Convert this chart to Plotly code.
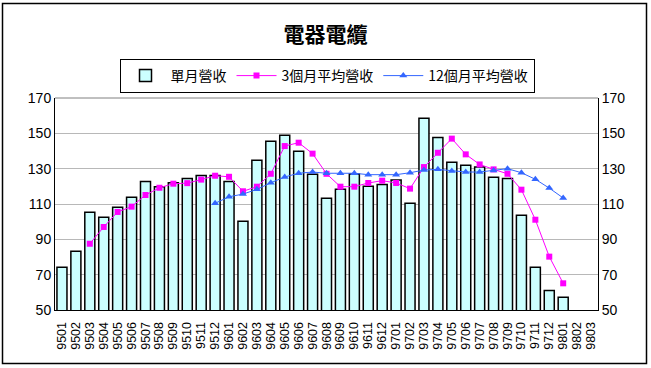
import plotly.graph_objects as go

months = ["9501","9502","9503","9504","9505","9506","9507","9508","9509","9510","9511","9512",
          "9601","9602","9603","9604","9605","9606","9607","9608","9609","9610","9611","9612",
          "9701","9702","9703","9704","9705","9706","9707","9708","9709","9710","9711","9712",
          "9801","9802","9803"]

monthly = [74.2, 83.2, 105.3, 102.5, 108.1, 113.8, 122.8, 119.8, 122.0, 124.5, 126.2, 126.2,
           122.8, 100.2, 134.7, 145.5, 148.9, 139.8, 126.8, 113.2, 118.3, 127.0, 120.0, 121.1,
           123.6, 110.4, 158.5, 147.7, 133.6, 131.9, 130.9, 125.1, 124.5, 103.6, 74.2, 61.1,
           57.2, None, None]

avg3 = [None, None, 87.5, 97.0, 105.5, 108.5, 115.1, 119.2, 121.5, 121.8, 123.8, 126.0,
        125.4, 117.2, 119.8, 127.1, 142.8, 144.7, 138.5, 127.1, 119.8, 119.8, 121.9, 123.2,
        121.9, 118.7, 130.9, 139.0, 147.0, 138.1, 132.4, 129.6, 127.1, 118.1, 101.1, 80.2,
        65.1, None, None]

avg12 = [None]*11 + [110.4,
         114.1, 115.6, 118.3, 122.0, 125.3, 127.4, 128.1, 127.4, 127.4, 127.4, 126.6, 126.6,
         126.6, 127.7, 129.2, 129.6, 128.7, 128.1, 128.1, 129.0, 130.0, 127.7, 124.0, 119.0,
         113.4, None, None]

yticks = [50, 70, 90, 110, 130, 150, 170]

W, H = 651, 368
L, R, T, B = 55, 598, 98, 310

fig = go.Figure()
fig.add_trace(go.Bar(x=months, y=monthly, name="單月營收",
                     marker=dict(color="#CCFFFF", line=dict(color="black", width=1.5))))
fig.add_trace(go.Scatter(x=months, y=avg3, name="3個月平均營收", yaxis="y2",
                         mode="lines+markers",
                         line=dict(color="#FF00FF", width=1),
                         marker=dict(symbol="square", size=6, color="#FF00FF")))
fig.add_trace(go.Scatter(x=months, y=avg12, name="12個月平均營收", yaxis="y2",
                         mode="lines+markers",
                         line=dict(color="#3366FF", width=1),
                         marker=dict(symbol="triangle-up", size=7, color="#3366FF")))

def px_x(p):
    return (p - L) / (R - L)

def px_y(p):
    return (B - p) / (B - T)

fig.update_layout(
    width=W, height=H,
    margin=dict(l=L, r=W - R, t=T, b=H - B),
    paper_bgcolor="white", plot_bgcolor="white",
    font=dict(family="Liberation Sans, Arial, sans-serif", size=13, color="black"),
    title=dict(text="<b>電器電纜</b>", x=0.5, xanchor="center", y=1 - 35 / H, yanchor="middle",
               font=dict(family="Noto Sans CJK TC", size=21, color="black")),
    bargap=0.28,
    showlegend=True,
    legend=dict(orientation="h", x=px_x(327), xanchor="center", y=px_y(59), yanchor="top",
                bordercolor="black", borderwidth=1, bgcolor="white",
                font=dict(family="Noto Sans CJK TC", size=14),
                itemwidth=40, tracegroupgap=0),
    xaxis=dict(type="category", tickangle=-90, showline=True, linecolor="black", linewidth=1,
               ticks="", tickmode="array", tickvals=months, ticktext=months,
               ticklabelstandoff=6,
               tickfont=dict(size=12.5), showgrid=False, range=[-0.5, len(months) - 0.5]),
    yaxis=dict(range=[50, 170], tickvals=yticks, showline=True, linecolor="black", linewidth=1,
               showgrid=True, gridcolor="#B8B8B8", gridwidth=1, zeroline=False,
               tickfont=dict(size=14), ticks="", ticklen=0),
    yaxis2=dict(range=[50, 170], tickvals=yticks, overlaying="y", side="right", showline=True,
                linecolor="black", linewidth=1, showgrid=False, zeroline=False,
                tickfont=dict(size=14), ticks=""),
    shapes=[
        dict(type="line", xref="paper", yref="paper", x0=0, x1=1, y0=1, y1=1,
             line=dict(color="#808080", width=1)),
        dict(type="rect", xref="paper", yref="paper",
             x0=px_x(2.5), x1=px_x(646.5), y0=px_y(363.5), y1=px_y(3.5),
             line=dict(color="black", width=1.5), fillcolor="rgba(0,0,0,0)", layer="above"),
    ],
)

fig.write_html("out.html", config={"displayModeBar": False},
               post_script="document.body.style.margin='0';document.body.style.overflow='hidden';")
